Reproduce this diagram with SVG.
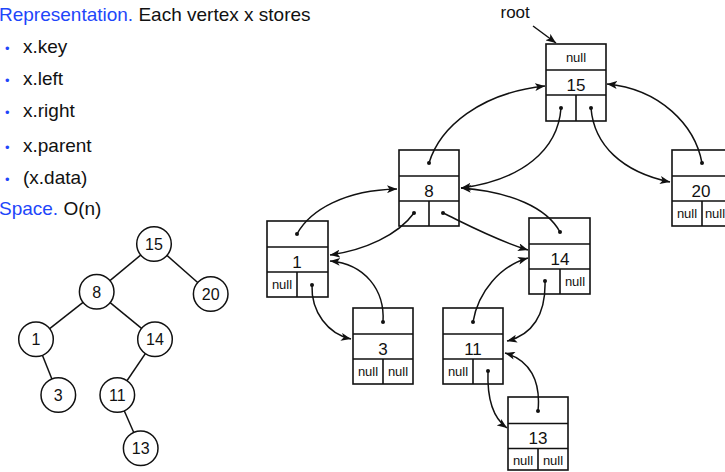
<svg xmlns="http://www.w3.org/2000/svg" width="725" height="472" viewBox="0 0 725 472">
<defs>
<style>
.t{font-family:"Liberation Sans",Arial,sans-serif;fill:#111}
.h{font-size:19px}
.b{fill:#1e46fa}
.box{fill:#fff;stroke:#111;stroke-width:1.6}
.ln{stroke:#111;stroke-width:1.6;fill:none}
.key{font-size:17px;text-anchor:middle}
.nul{font-size:13px;text-anchor:middle}
.c{fill:#fff;stroke:#111;stroke-width:1.5}
.ck{font-size:16px;text-anchor:middle}
.e{stroke:#111;stroke-width:1.5}
.cv{fill:none;stroke:#111;stroke-width:1.5;marker-end:url(#ah)}
.dot{fill:#111}
</style>
<marker id="ah" viewBox="0 0 10 8" refX="10" refY="4" markerWidth="10" markerHeight="8" markerUnits="userSpaceOnUse" orient="auto"><path d="M0,0 L10,4 L0,8 L2.5,4 z" fill="#111"/></marker>
</defs>
<rect width="725" height="472" fill="#fff"/>

<g id="text">
<text class="t h" x="-1" y="21"><tspan class="b">Representation.</tspan> Each vertex x stores</text>
<text class="t b" x="5" y="53" font-size="13">•</text><text class="t h" x="23" y="53">x.key</text>
<text class="t b" x="5" y="85" font-size="13">•</text><text class="t h" x="23" y="85">x.left</text>
<text class="t b" x="5" y="117" font-size="13">•</text><text class="t h" x="23" y="117">x.right</text>
<text class="t b" x="5" y="152" font-size="13">•</text><text class="t h" x="23" y="152">x.parent</text>
<text class="t b" x="5" y="184" font-size="13">•</text><text class="t h" x="23" y="184">(x.data)</text>
<text class="t h" x="-1" y="215"><tspan class="b">Space.</tspan> O(n)</text>
</g>

<g id="tree-edges">
<line class="e" x1="154" y1="244" x2="96.7" y2="291.7"/>
<line class="e" x1="154" y1="244" x2="210.7" y2="294"/>
<line class="e" x1="96.7" y1="291.7" x2="36" y2="339.3"/>
<line class="e" x1="96.7" y1="291.7" x2="155" y2="339.3"/>
<line class="e" x1="36" y1="339.3" x2="58.3" y2="395"/>
<line class="e" x1="155" y1="339.3" x2="117.3" y2="395"/>
<line class="e" x1="117.3" y1="395" x2="140.7" y2="448.3"/>
</g>
<g id="c15"><circle class="c" cx="154" cy="244" r="17.3"/><text class="t ck" x="154" y="250">15</text></g>
<g id="c8"><circle class="c" cx="96.7" cy="291.7" r="17.3"/><text class="t ck" x="96.7" y="297.5">8</text></g>
<g id="c20"><circle class="c" cx="210.7" cy="294" r="17.3"/><text class="t ck" x="210.7" y="300">20</text></g>
<g id="c1"><circle class="c" cx="36" cy="339.3" r="17.3"/><text class="t ck" x="36" y="345">1</text></g>
<g id="c14"><circle class="c" cx="155" cy="339.3" r="17.3"/><text class="t ck" x="155" y="345">14</text></g>
<g id="c3"><circle class="c" cx="58.3" cy="395" r="17.3"/><text class="t ck" x="58.3" y="401">3</text></g>
<g id="c11"><circle class="c" cx="117.3" cy="395" r="17.3"/><text class="t ck" x="117.3" y="401">11</text></g>
<g id="c13"><circle class="c" cx="140.7" cy="448.3" r="17.3"/><text class="t ck" x="140.7" y="454">13</text></g>

<g id="n15">
<rect class="box" x="546" y="44" width="60" height="77"/>
<path class="ln" d="M546,70H606M546,95H606M576,95V121"/>
<text class="t nul" x="576" y="62">null</text>
<text class="t key" x="576" y="91">15</text>
</g>
<g id="n8">
<rect class="box" x="399" y="150" width="60" height="76"/>
<path class="ln" d="M399,176H459M399,201H459M429,201V226"/>
<text class="t key" x="429" y="196.5">8</text>
</g>
<g id="n20">
<rect class="box" x="672" y="150" width="60" height="76"/>
<path class="ln" d="M672,176H732M672,201H732M702,201V226"/>
<text class="t key" x="701" y="196.5">20</text>
<text class="t nul" x="687" y="218">null</text>
<text class="t nul" x="715" y="218">null</text>
</g>
<g id="n1">
<rect class="box" x="267" y="221" width="61" height="76"/>
<path class="ln" d="M267,247H328M267,272H328M297,272V297"/>
<text class="t key" x="297" y="267.5">1</text>
<text class="t nul" x="282" y="289">null</text>
</g>
<g id="n14">
<rect class="box" x="529" y="218" width="61" height="76"/>
<path class="ln" d="M529,244H590M529,269H590M560,269V294"/>
<text class="t key" x="560" y="264.5">14</text>
<text class="t nul" x="575" y="286">null</text>
</g>
<g id="n3">
<rect class="box" x="353" y="308" width="60" height="76"/>
<path class="ln" d="M353,334H413M353,359H413M383,359V384"/>
<text class="t key" x="383" y="354.5">3</text>
<text class="t nul" x="368" y="376">null</text>
<text class="t nul" x="398" y="376">null</text>
</g>
<g id="n11">
<rect class="box" x="443" y="308" width="60" height="76"/>
<path class="ln" d="M443,334H503M443,359H503M473,359V384"/>
<text class="t key" x="473" y="354.5">11</text>
<text class="t nul" x="458" y="376">null</text>
</g>
<g id="n13">
<rect class="box" x="508" y="397" width="60" height="73"/>
<path class="ln" d="M508,423.5H568M508,448.5H568M538,448.5V470"/>
<text class="t key" x="538" y="443.5">13</text>
<text class="t nul" x="523" y="465">null</text>
<text class="t nul" x="553" y="465">null</text>
</g>

<g id="connectors">
<text class="t" x="500.5" y="18" font-size="17">root</text>
<path class="cv" d="M533,26L556,43"/>
<path class="cv" d="M429,163C440,127 480,93 545,86"/>
<path class="cv" d="M561,108C558,150 522,180 461,188"/>
<path class="cv" d="M591,108C594,145 622,172 670,182"/>
<path class="cv" d="M702,163C695,125 660,89 607,84"/>
<path class="cv" d="M297,234C310,210 345,190 397,189"/>
<path class="cv" d="M414,213C398,235 365,250 330,255"/>
<path class="cv" d="M443,213C462,222 495,240 528,250"/>
<path class="cv" d="M560,232C547,208 512,192 461,188"/>
<path class="cv" d="M312,285C311,312 328,334 351,339"/>
<path class="cv" d="M383,322C385,290 365,264 330,261"/>
<path class="cv" d="M473,322C478,292 500,266 528,258"/>
<path class="cv" d="M545,281C546,315 532,335 507,341"/>
<path class="cv" d="M538,411C541,381 530,360 505,353"/>
<path class="cv" d="M488,371C487,398 493,418 507,428"/>
<g class="dot">
<circle cx="429" cy="163" r="2"/><circle cx="561" cy="108" r="2"/><circle cx="591" cy="108" r="2"/>
<circle cx="702" cy="163" r="2"/><circle cx="297" cy="234" r="2"/><circle cx="414" cy="213" r="2"/>
<circle cx="443" cy="213" r="2"/><circle cx="560" cy="232" r="2"/><circle cx="312" cy="285" r="2"/>
<circle cx="383" cy="322" r="2"/><circle cx="473" cy="322" r="2"/><circle cx="545" cy="281" r="2"/>
<circle cx="538" cy="411" r="2"/><circle cx="488" cy="371" r="2"/>
</g>
</g>
</svg>
